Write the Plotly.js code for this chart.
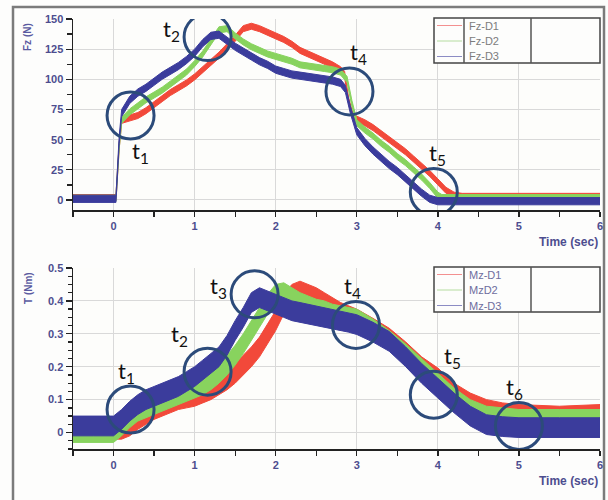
<!DOCTYPE html>
<html><head><meta charset="utf-8">
<script src="https://cdn.plot.ly/plotly-3.0.1.min.js"></script>
<style>html,body{margin:0;padding:0;background:#fdfdfc}</style>
</head><body><div id="chart" style="width:608px;height:500px"></div>
<script>
// ---------- Top panel: Fz (N) ----------
const fzD1Time = [-0.5,0.03,0.07,0.1,0.2,0.3,0.4,0.5,0.6,0.7,0.8,0.9,1.0,1.1,1.2,1.3,1.4,1.5,1.6,1.7,1.8,1.9,2.0,2.1,2.2,2.3,2.4,2.5,2.6,2.7,2.8,2.85,2.9,2.95,3.0,3.1,3.2,3.3,3.4,3.5,3.6,3.7,3.8,3.9,4.0,4.1,4.2,4.3,5.0,6.0];
const fzD1 = [2,2,45,66,68,70,74,79,84,89,93,97,102,108,114,120,127,134,142,144,142,139,136,133,129,124,121,118,115,112,108,104,82,70,67,64,60,55,50,45,40,34,28,22,15,8,4,3,3,3];
const fzD2Time = [-0.5,0.03,0.07,0.1,0.2,0.3,0.4,0.5,0.6,0.7,0.8,0.9,1.0,1.1,1.2,1.3,1.4,1.5,1.6,1.7,1.8,1.9,2.0,2.1,2.2,2.3,2.4,2.5,2.6,2.7,2.8,2.88,2.94,3.0,3.1,3.2,3.3,3.4,3.5,3.6,3.7,3.8,3.9,4.0,4.05,5.0,6.0];
const fzD2 = [1.5,1.5,45,66,73,78,83,87,91,96,101,106,113,121,131,141,142,136,131,127,124,121,119,117,115,112,111,110,109,108,106,100,80,64,58,53,47,42,36,31,25,19,12,4,2,2,2];
const fzD3Time = [-0.5,0.03,0.07,0.1,0.2,0.3,0.4,0.5,0.6,0.7,0.8,0.9,1.0,1.1,1.2,1.3,1.4,1.5,1.6,1.7,1.8,1.9,2.0,2.1,2.2,2.3,2.4,2.5,2.6,2.7,2.8,2.86,2.92,3.0,3.1,3.2,3.3,3.4,3.5,3.6,3.7,3.8,3.9,4.0,5.0,6.0];
const fzD3 = [1,1,50,72,83,89,93,98,103,107,111,116,122,130,136,137,132,127,123,119,115,112,108,106,104,103,102,101,100,99,97,92,75,57,48,41,35,29,24,18,12,6,1,-1,-1,-1];
const fzNoise = [2.5, 2.5, 3];       // half-width of the noise band
const fzNames = ['Fz-D1','Fz-D2','Fz-D3'];

// ---------- Bottom panel: T (Nm) ----------
const mzTime = [-0.5,-0.25,0,0.1,0.2,0.3,0.4,0.5,0.6,0.7,0.8,0.9,1.0,1.1,1.2,1.3,1.4,1.5,1.6,1.7,1.8,1.9,2.0,2.1,2.2,2.3,2.4,2.5,2.6,2.7,2.8,2.9,3.0,3.2,3.4,3.6,3.8,4.0,4.2,4.4,4.6,4.8,5.0,5.5,6.0];
const mzD1 = [0.01,0.01,0.01,0.01,0.02,0.04,0.055,0.07,0.08,0.09,0.1,0.105,0.11,0.12,0.13,0.145,0.16,0.18,0.205,0.23,0.26,0.3,0.34,0.39,0.42,0.43,0.42,0.41,0.395,0.38,0.365,0.355,0.345,0.317,0.287,0.246,0.2,0.166,0.12,0.09,0.07,0.06,0.055,0.05,0.055];
const mzD2 = [0,0,0,0.02,0.045,0.065,0.075,0.085,0.095,0.105,0.115,0.125,0.135,0.145,0.16,0.18,0.205,0.235,0.27,0.31,0.35,0.39,0.42,0.425,0.41,0.395,0.385,0.375,0.37,0.36,0.355,0.35,0.345,0.315,0.28,0.24,0.195,0.15,0.105,0.07,0.05,0.045,0.04,0.04,0.04];
const mzD3 = [0.02,0.02,0.02,0.04,0.065,0.085,0.1,0.11,0.12,0.13,0.14,0.155,0.17,0.19,0.21,0.23,0.265,0.31,0.35,0.395,0.41,0.4,0.39,0.38,0.37,0.365,0.36,0.355,0.35,0.345,0.34,0.335,0.328,0.305,0.277,0.231,0.18,0.135,0.09,0.05,0.024,0.018,0.015,0.015,0.015];
const mzNoise = [0.03, 0.03, 0.03];
const mzNames = ['Mz-D1','MzD2','Mz-D3'];

// ---------- Markers (circles) and labels ----------
const topCircleX = [0.21, 1.16, 2.91, 3.95];
const topCircleY = [70, 135, 90, 6.6];
const topLabels = ['t<sub>1</sub>','t<sub>2</sub>','t<sub>4</sub>','t<sub>5</sub>'];
const topLabelX = [0.33, 0.72, 3.02, 4.0];
const topLabelY = [40, 141, 122, 38];

const botCircleX = [0.21, 1.16, 1.74, 2.99, 3.95, 5.0];
const botCircleY = [0.07, 0.185, 0.42, 0.327, 0.115, 0.02];
const botLabels = ['t<sub>1</sub>','t<sub>2</sub>','t<sub>3</sub>','t<sub>4</sub>','t<sub>5</sub>','t<sub>6</sub>'];
const botLabelX = [0.16, 0.815, 1.30, 2.95, 4.185, 4.95];
const botLabelY = [0.185, 0.297, 0.442, 0.442, 0.23, 0.136];

const xTicks = [0,1,2,3,4,5,6];

const colors = ['#f2493a', '#88d35e', '#3b3c9c'];
const legendLineColors = ['#f39090', '#b5dca0', '#8c8cc4'];
const W = 608, H = 500;
const px = v => v / W, py = v => 1 - v / H;

function band(t, c, half, color, xa, ya) {
  const upper = c.map(v => v + half), lower = c.map(v => v - half);
  return {
    x: t.concat(t.slice().reverse()),
    y: upper.concat(lower.slice().reverse()),
    xaxis: xa, yaxis: ya, type: 'scatter', mode: 'lines',
    fill: 'toself', fillcolor: color,
    line: {color: color, width: 1}, hoverinfo: 'skip', showlegend: false
  };
}

const traces = [
  band(fzD1Time, fzD1, fzNoise[0], colors[0], 'x', 'y'),
  band(fzD2Time, fzD2, fzNoise[1], colors[1], 'x', 'y'),
  band(fzD3Time, fzD3, fzNoise[2], colors[2], 'x', 'y'),
  band(mzTime, mzD1, mzNoise[0], colors[0], 'x2', 'y2'),
  band(mzTime, mzD2, mzNoise[1], colors[1], 'x2', 'y2'),
  band(mzTime, mzD3, mzNoise[2], colors[2], 'x2', 'y2')
];

const tickFont = {family: 'Liberation Sans, Arial, sans-serif', size: 11, color: '#4d4d8f', weight: 'bold'};
const axisBase = {
  showgrid: true, gridcolor: '#d9d9d9', gridwidth: 1, zeroline: false,
  showline: true, linecolor: '#222', linewidth: 1.5,
  ticks: 'outside', ticklen: 6, tickcolor: '#222', tickwidth: 1.3,
  tickfont: tickFont, fixedrange: true
};
const xDomain = [px(73), px(600)];

const shapes = [];
shapes.push({type: 'rect', xref: 'paper', yref: 'paper', x0: px(13), x1: px(604), y0: -0.02, y1: py(7),
  line: {color: '#7b7b7b', width: 2.5}, fillcolor: 'rgba(0,0,0,0)', layer: 'below'});

function legendBox(top, names, textColor, annots) {
  shapes.push({type: 'rect', xref: 'paper', yref: 'paper', x0: px(434), x1: px(600), y0: py(top + 45), y1: py(top),
    line: {color: '#444', width: 1.5}, fillcolor: '#fdfdfc'});
  [464, 531].forEach(xv => shapes.push({type: 'line', xref: 'paper', yref: 'paper', x0: px(xv), x1: px(xv),
    y0: py(top + 45), y1: py(top), line: {color: '#555', width: 1.5}}));
  names.forEach((n, i) => {
    const yy = top + 7.5 + i * 15.5;
    shapes.push({type: 'line', xref: 'paper', yref: 'paper', x0: px(437), x1: px(462), y0: py(yy), y1: py(yy),
      line: {color: legendLineColors[i], width: 1}});
    annots.push({xref: 'paper', yref: 'paper', x: px(467), y: py(yy), xanchor: 'left', yanchor: 'middle',
      text: n, showarrow: false, font: {family: 'Liberation Sans, Arial, sans-serif', size: 11, color: textColor}});
  });
}

const annotations = [];
legendBox(18, fzNames, '#7c7c7c', annotations);
legendBox(267, mzNames, '#6e6e9e', annotations);

function circles(xs, ys, xr, yr) {
  xs.forEach((xv, i) => shapes.push({type: 'circle', xref: xr, yref: yr, xsizemode: 'pixel', ysizemode: 'pixel',
    xanchor: xv, yanchor: ys[i], x0: -23.5, x1: 23.5, y0: -23.5, y1: 23.5,
    line: {color: '#2c4b7a', width: 3}}));
}
circles(topCircleX, topCircleY, 'x', 'y');
circles(botCircleX, botCircleY, 'x2', 'y2');

function labels(txt, xs, ys, xr, yr) {
  txt.forEach((t, i) => annotations.push({xref: xr, yref: yr, x: xs[i], y: ys[i], text: t, showarrow: false,
    xanchor: 'center', yanchor: 'middle', font: {family: 'Lato, Open Sans, sans-serif', size: 22, color: '#111'}}));
}
labels(topLabels, topLabelX, topLabelY, 'x', 'y');
labels(botLabels, botLabelX, botLabelY, 'x2', 'y2');

const titleFont = {family: 'Liberation Sans, Arial, sans-serif', size: 12, color: '#4d4d8f', weight: 'bold'};
annotations.push({xref: 'paper', yref: 'paper', x: px(600), y: py(242), xanchor: 'right', yanchor: 'middle',
  text: 'Time (sec)', showarrow: false, font: titleFont});
annotations.push({xref: 'paper', yref: 'paper', x: px(600), y: py(481), xanchor: 'right', yanchor: 'middle',
  text: 'Time (sec)', showarrow: false, font: titleFont});
const yTitleFont = {family: 'Liberation Sans, Arial, sans-serif', size: 10, color: '#5a5aa0', weight: 'bold'};
annotations.push({xref: 'paper', yref: 'paper', x: px(28), y: py(37), xanchor: 'center', yanchor: 'middle',
  text: 'Fz (N)', textangle: -90, showarrow: false, font: yTitleFont});
annotations.push({xref: 'paper', yref: 'paper', x: px(28), y: py(288), xanchor: 'center', yanchor: 'middle',
  text: 'T (Nm)', textangle: -90, showarrow: false, font: yTitleFont});

const layout = {
  width: W, height: H,
  margin: {l: 0, r: 0, t: 0, b: 0, pad: 0},
  paper_bgcolor: '#fdfdfc', plot_bgcolor: '#fdfdfb',
  showlegend: false,
  xaxis: Object.assign({}, axisBase, {domain: xDomain, anchor: 'y', range: [-0.5, 6], tickvals: xTicks,
    ticklen: 5, minor: {dtick: 0.5, tick0: 0, ticks: 'outside', ticklen: 5, tickcolor: '#222', showgrid: false}}),
  yaxis: Object.assign({}, axisBase, {domain: [py(210), py(19)], anchor: 'x', range: [-8.3, 150], dtick: 25, tick0: 0,
    minor: {dtick: 12.5, tick0: 0, ticks: 'outside', ticklen: 5, tickcolor: '#222', showgrid: false}}),
  xaxis2: Object.assign({}, axisBase, {domain: xDomain, anchor: 'y2', range: [-0.5, 6], tickvals: xTicks,
    ticklen: 5, minor: {dtick: 0.5, tick0: 0, ticks: 'outside', ticklen: 5, tickcolor: '#222', showgrid: false}}),
  yaxis2: Object.assign({}, axisBase, {domain: [py(449), py(268)], anchor: 'x2', range: [-0.05, 0.5], dtick: 0.1, tick0: 0,
    minor: {dtick: 0.025, tick0: 0, ticks: 'outside', ticklen: 4, tickcolor: '#222', showgrid: false}}),
  shapes: shapes,
  annotations: annotations
};

Plotly.newPlot('chart', traces, layout, {displayModeBar: false, staticPlot: true});
</script>
</body></html>
